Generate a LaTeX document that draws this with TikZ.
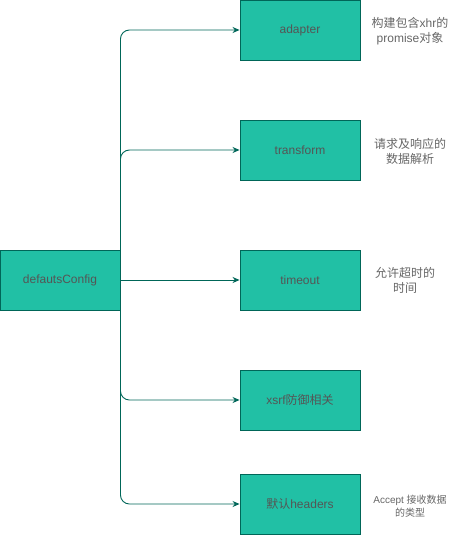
\documentclass[tikz,border=0pt]{standalone}
\usepackage{fontspec}
\setmainfont{Liberation Sans}
\newfontfamily\cjk{Noto Sans CJK SC}
\usetikzlibrary{arrows.meta}
\definecolor{boxfill}{HTML}{21C0A5}
\definecolor{boxline}{HTML}{006658}
\definecolor{txt}{HTML}{555555}
\definecolor{note}{HTML}{666666}
\tikzset{
  box/.style={draw=boxline, line width=0.9pt, fill=boxfill, minimum width=120pt, minimum height=60pt, inner sep=0pt, text=txt, font=\fontsize{12}{14}\selectfont},
  notetxt/.style={text=note, align=center, font=\fontsize{12}{15}\selectfont, inner sep=0pt},
  smallnote/.style={text=note, align=center, font=\fontsize{10}{13}\selectfont, inner sep=0pt},
  conn/.style={draw=boxline, line width=0.9pt, rounded corners=9pt, -{Stealth[length=7pt,width=6pt]}}
}
\begin{document}
\begin{tikzpicture}[x=1pt,y=-1pt]
\useasboundingbox (0,0) rectangle (451,535);
\node[box] (d) at (60,280) {defautsConfig};
\node[box] (a) at (300,30) {adapter};
\node[box] (t) at (300,150) {transform};
\node[box] (o) at (300,280) {timeout};
\node[box] (x) at (300,400) {xsrf{\cjk 防御相关}};
\node[box] (h) at (300,504) {{\cjk 默认}headers};
\node[notetxt] (na) at (410,31) {{\cjk 构建包含}xhr{\cjk 的}\\promise{\cjk 对象}};
\node[notetxt] (nt) at (410,151) {{\cjk 请求及响应的}\\{\cjk 数据解析}};
\node[notetxt] (no) at (405,280) {{\cjk 允许超时的}\\{\cjk 时间}};
\node[smallnote] (nh) at (410,506) {Accept {\cjk 接收数据}\\{\cjk 的类型}};
\draw[conn] (d.east) |- (a.west);
\draw[conn] (d.east) |- (t.west);
\draw[conn] (d.east) -- (o.west);
\draw[conn] (d.east) |- (x.west);
\draw[conn] (d.east) |- (h.west);
\end{tikzpicture}
\end{document}
